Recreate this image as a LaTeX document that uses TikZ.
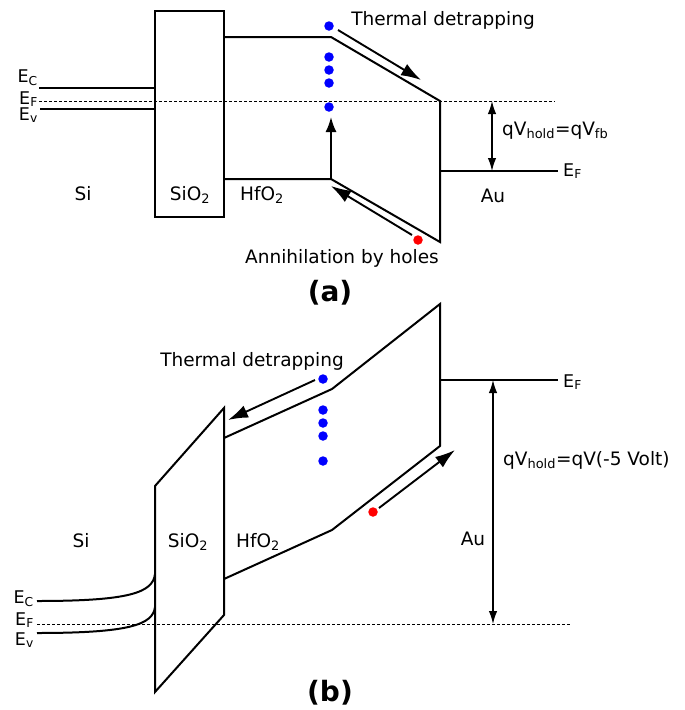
\documentclass[tikz,border=0pt]{standalone}
\usepackage{fontspec}
\setmainfont{DejaVu Sans}
\usetikzlibrary{arrows.meta}
\begin{document}
\begin{tikzpicture}[x=1pt,y=-1pt,
  font=\fontsize{18.5}{22}\selectfont,
  band/.style={line width=2pt, line join=miter},
  fermi/.style={line width=0.8pt, dash pattern=on 3pt off 2pt},
  move/.style={line width=1.9pt, -{Latex[length=20pt,width=13pt]}},
  rise/.style={line width=1.9pt, -{Latex[length=15pt,width=11pt]}},
  gap/.style={line width=1.4pt, {Latex[length=13pt,width=8.5pt]}-{Latex[length=13pt,width=8.5pt]}},
  ele/.style={circle, fill=blue, inner sep=0pt, minimum size=9.5pt},
  hole/.style={circle, fill=red, inner sep=0pt, minimum size=9.5pt},
  lbl/.style={inner sep=0pt},
  elbl/.style={inner sep=0pt, font=\fontsize{17.5}{20}\selectfont},
  big/.style={inner sep=0pt, font=\fontsize{28}{32}\selectfont\bfseries}
]
\useasboundingbox (0,0) rectangle (685,710);

%% ---------------- panel (a) ----------------
% SiO2 box
\draw[band] (155,11) rectangle (224,217);
% Si bands
\coordinate (aEc0) at (39,88);  \coordinate (aEc1) at (155,88);
\coordinate (aEv0) at (40,109); \coordinate (aEv1) at (155,109);
\draw[band] (aEc0) -- (aEc1);
\draw[band] (aEv0) -- (aEv1);
\coordinate (aF0) at (39,101); \coordinate (aF1) at (555,101);
\draw[fermi] (aF0) -- (aF1);
% HfO2 bands
\coordinate (aU0) at (224,37); \coordinate (aU1) at (331,37); \coordinate (aU2) at (440,101);
\coordinate (aL0) at (224,179); \coordinate (aL1) at (331,179); \coordinate (aL2) at (440,242);
\draw[band] (aU0) -- (aU1) -- (aU2) -- (aL2) -- (aL1) -- (aL0);
% Au Fermi
\coordinate (aAu0) at (440,171); \coordinate (aAu1) at (558,171);
\draw[band] (aAu0) -- (aAu1);
\coordinate (aG0) at (492,101); \coordinate (aG1) at (492,171);
\draw[gap] (aG0) -- (aG1);
% carriers
\node[ele] (ae1) at (329,26) {};
\node[ele] (ae2) at (329,57) {};
\node[ele] (ae3) at (329,70) {};
\node[ele] (ae4) at (329,83) {};
\node[ele] (ae5) at (329,107) {};
\node[hole] (ah1) at (418,240) {};
% arrows
\coordinate (aT0) at (338,30); \coordinate (aT1) at (421,80);
\draw[move] (aT0) -- (aT1);
\coordinate (aV1) at (331,117);
\draw[rise] (aL1) -- (aV1);
\coordinate (aH0) at (412,235); \coordinate (aH1) at (331,186);
\draw[move] (aH0) -- (aH1);
% labels
\node[elbl, anchor=base east] (aEcl) at (38,82) {E\textsubscript{C}};
\node[elbl, anchor=base east] (aEfl) at (38,104) {E\textsubscript{F}};
\node[elbl, anchor=base east] (aEvl) at (38,120) {E\textsubscript{v}};
\node[lbl, anchor=base] (aSi) at (83,200) {Si};
\node[lbl, anchor=base] (aSiO) at (190,200) {SiO\textsubscript{2}};
\node[lbl, anchor=base] (aHf) at (262,200) {HfO\textsubscript{2}};
\node[lbl, anchor=base] (aAu) at (493,202) {Au};
\node[elbl, anchor=base west] (aEfAu) at (563,176) {E\textsubscript{F}};
\node[lbl, anchor=base west] (aQ) at (502,135) {qV\textsubscript{hold}=qV\textsubscript{fb}};
\node[lbl, anchor=base] (aTD) at (443,25) {Thermal detrapping};
\node[lbl, anchor=base] (aAn) at (342,263) {Annihilation by holes};
\node[big, anchor=base] (aLab) at (330,301) {(a)};

%% ---------------- panel (b) ----------------
% SiO2 parallelogram
\coordinate (bS1) at (155,486); \coordinate (bS2) at (224,408);
\coordinate (bS3) at (224,615); \coordinate (bS4) at (155,692);
\draw[band] (bS1) -- (bS2) -- (bS3) -- (bS4) -- cycle;
% Si bands (bent)
\coordinate (bEc0) at (37,601); \coordinate (bEc1) at (155,574);
\coordinate (bEv0) at (37,633); \coordinate (bEv1) at (155,607);
\draw[band] (bEc0) .. controls (128,601) and (153,593) .. (bEc1);
\draw[band] (bEv0) .. controls (128,633) and (153,625) .. (bEv1);
\coordinate (bF0) at (37,624); \coordinate (bF1) at (571,624);
\draw[fermi] (bF0) -- (bF1);
% HfO2 bands
\coordinate (bU0) at (224,438); \coordinate (bU1) at (332,389); \coordinate (bU2) at (440,304);
\coordinate (bL0) at (224,579); \coordinate (bL1) at (332,530); \coordinate (bL2) at (440,446);
\draw[band] (bU0) -- (bU1) -- (bU2) -- (bL2) -- (bL1) -- (bL0);
% Au Fermi
\coordinate (bAu0) at (440,380); \coordinate (bAu1) at (558,380);
\draw[band] (bAu0) -- (bAu1);
\coordinate (bG0) at (493,380); \coordinate (bG1) at (493,624);
\draw[gap] (bG0) -- (bG1);
% carriers
\node[ele] (be1) at (323,379) {};
\node[ele] (be2) at (323,410) {};
\node[ele] (be3) at (323,423) {};
\node[ele] (be4) at (323,436) {};
\node[ele] (be5) at (323,461) {};
\node[hole] (bh1) at (373,512) {};
% arrows
\coordinate (bT0) at (315,380); \coordinate (bT1) at (228,420);
\draw[move] (bT0) -- (bT1);
\coordinate (bH0) at (379,508); \coordinate (bH1) at (455,450);
\draw[move] (bH0) -- (bH1);
% labels
\node[elbl, anchor=base east] (bEcl) at (34,603) {E\textsubscript{C}};
\node[elbl, anchor=base east] (bEfl) at (34,625) {E\textsubscript{F}};
\node[elbl, anchor=base east] (bEvl) at (34,645) {E\textsubscript{v}};
\node[lbl, anchor=base] (bSi) at (81,547) {Si};
\node[lbl, anchor=base] (bSiO) at (188,547) {SiO\textsubscript{2}};
\node[lbl, anchor=base] (bHf) at (258,547) {HfO\textsubscript{2}};
\node[lbl, anchor=base] (bAu) at (473,545) {Au};
\node[elbl, anchor=base west] (bEfAu) at (563,387) {E\textsubscript{F}};
\node[lbl, anchor=base west] (bQ) at (503,465) {qV\textsubscript{hold}=qV(-5 Volt)};
\node[lbl, anchor=base] (bTD) at (252,366) {Thermal detrapping};
\node[big, anchor=base] (bLab) at (330,701) {(b)};
\end{tikzpicture}
\end{document}
